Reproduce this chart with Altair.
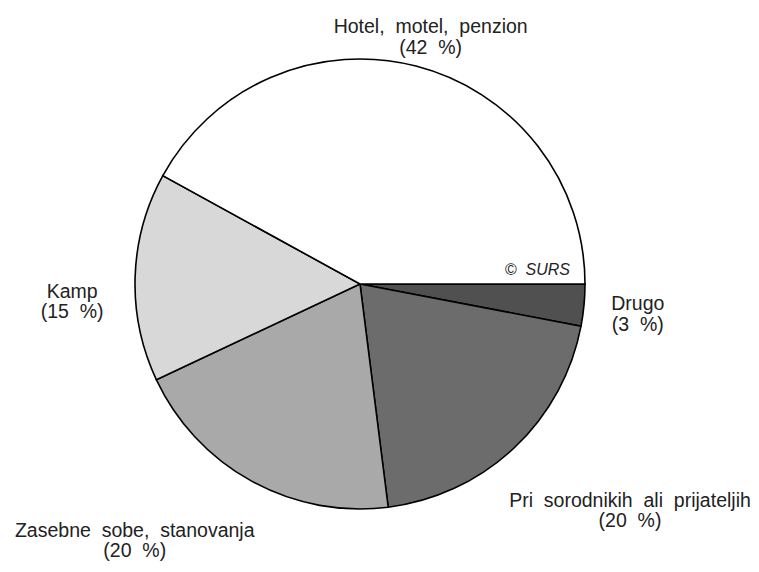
import math
import altair as alt
import pandas as pd

# Data (clockwise from 3 o'clock)
categories = ["Drugo", "Pri sorodnikih ali prijateljih", "Zasebne sobe, stanovanja", "Kamp", "Hotel, motel, penzion"]
shares = [3, 20, 20, 15, 42]
labels = [
    "Drugo\n(3\u00a0 %)",
    "Pri\u00a0 sorodnikih\u00a0 ali\u00a0 prijateljih\n(20\u00a0 %)",
    "Zasebne\u00a0 sobe,\u00a0 stanovanja\n(20\u00a0 %)",
    "Kamp\n(15\u00a0 %)",
    "Hotel,\u00a0 motel,\u00a0 penzion\n(42\u00a0 %)",
]
fills = ["#505050", "#6c6c6c", "#a9a9a9", "#d8d8d8", "#ffffff"]

df = pd.DataFrame({
    "cat": categories,
    "share": shares,
    "label": labels,
    "ord": list(range(len(categories))),
})

CX, CY = 352, 276
theta_scale = alt.Scale(domain=[0, 100], range=[math.pi / 2, math.pi / 2 + 2 * math.pi])

pie = alt.Chart(df).mark_arc(radius=225, stroke="black", strokeWidth=1.6).encode(
    theta=alt.Theta("share:Q", stack=True, scale=theta_scale),
    order=alt.Order("ord:Q"),
    x=alt.value(CX),
    y=alt.value(CY),
    color=alt.Color("cat:N", scale=alt.Scale(domain=categories, range=fills), legend=None),
)

offsets = {
    "Drugo": (19, -4),
    "Pri sorodnikih ali prijateljih": (92, 27),
    "Zasebne sobe, stanovanja": (-100, 19),
    "Kamp": (-28, 16),
    "Hotel, motel, penzion": (6, -5),
}

text_base = alt.Chart(df).transform_window(
    cum="sum(share)", sort=[alt.SortField("ord")]
).transform_calculate(
    mid="datum.cum - datum.share / 2"
)

text_layers = []
for c in categories:
    dx, dy = offsets[c]
    t = text_base.transform_filter(alt.datum.cat == c).mark_text(
        radius=260, dx=dx, dy=dy, lineBreak="\n", lineHeight=20.5,
        font="Liberation Sans", fontSize=19.5, color="#222222",
        align="center", baseline="middle",
    ).encode(
        theta=alt.Theta("mid:Q", stack=None, scale=theta_scale),
        x=alt.value(CX), y=alt.value(CY), text="label:N",
    )
    text_layers.append(t)

surs = alt.Chart(pd.DataFrame({"t": ["\u00a9\u00a0 SURS"]})).mark_text(
    font="Liberation Sans", fontSize=16, fontStyle="italic", align="right",
    baseline="alphabetic", color="#222222",
).encode(x=alt.value(562), y=alt.value(267), text="t:N")

chart = alt.layer(pie, *text_layers, surs).properties(
    width=743, height=556, padding=0, autosize="none"
).configure_view(stroke=None)

chart.save("out.html", embed_options={"renderer": "svg", "actions": False})
